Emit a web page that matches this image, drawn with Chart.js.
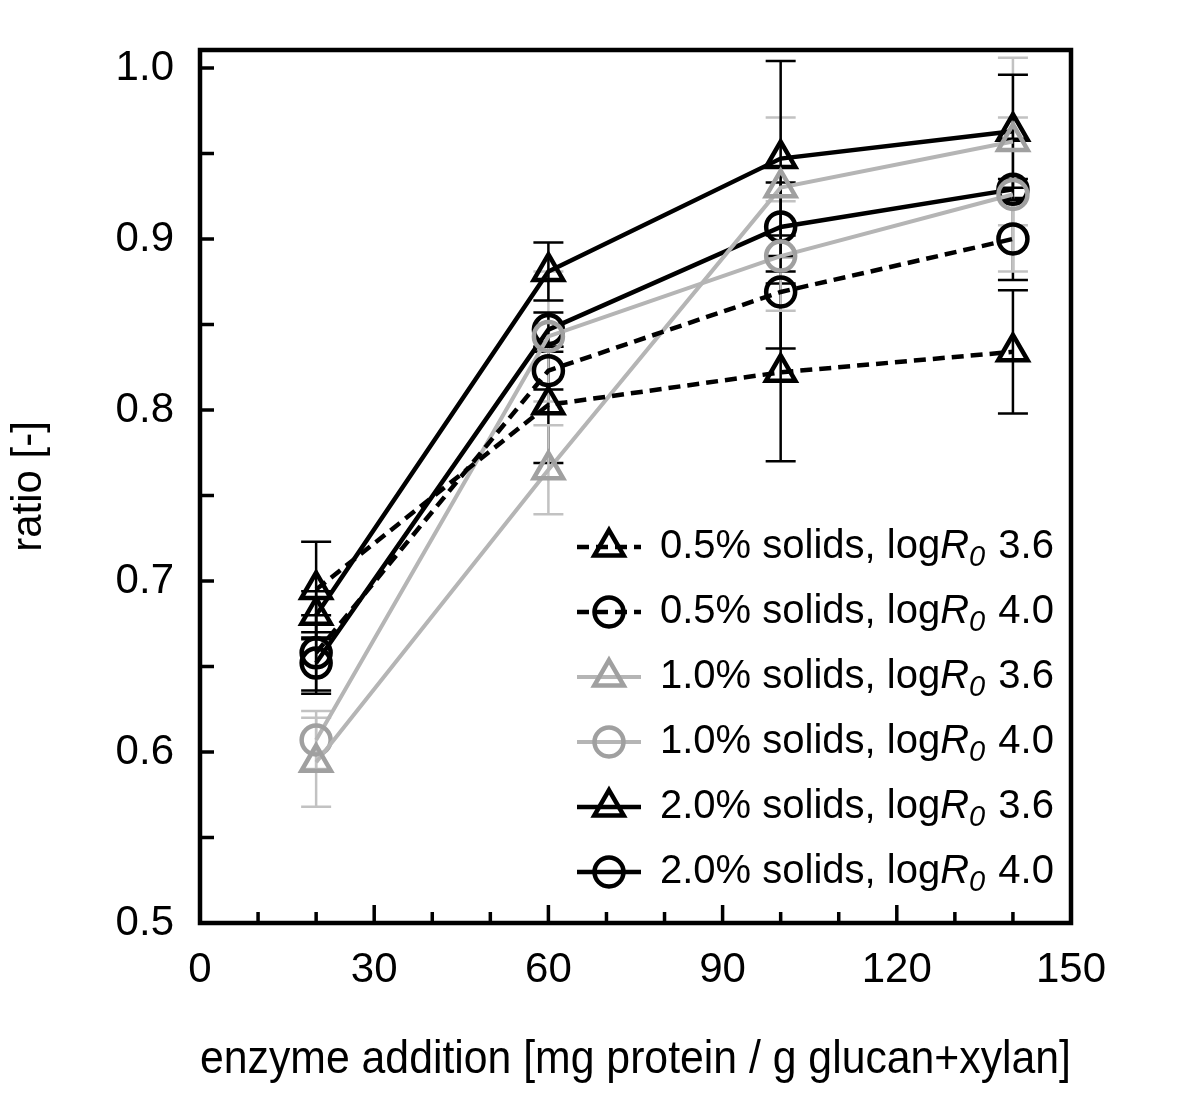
<!DOCTYPE html>
<html>
<head>
<meta charset="utf-8">
<script src="https://cdn.jsdelivr.net/npm/chart.js@4.4.1/dist/chart.umd.min.js"></script>
<style>
  html, body { margin: 0; padding: 0; background: #fff; }
</style>
</head>
<body>
<canvas id="ctx" width="1200" height="1094"></canvas>
<script>
const FONT = '"Liberation Sans", Arial, sans-serif';

// enzyme addition [mg protein / g glucan+xylan]
const enzyme = [20, 60, 100, 140];

const solids = ['0.5%', '0.5%', '1.0%', '1.0%', '2.0%', '2.0%'];
const logR0 = ['3.6', '4.0', '3.6', '4.0', '3.6', '4.0'];

// ratio values and error bars
const s05_r36 = [0.695, 0.803, 0.822, 0.834];
const s05_r36_err = [0.028, 0.034, 0.052, 0.036];
const s05_r40 = [0.658, 0.823, 0.869, 0.900];
const s05_r40_err = [0.022, 0.011, 0.033, 0.024];
const s10_r36 = [0.594, 0.765, 0.930, 0.957];
const s10_r36_err = [0.026, 0.026, 0.041, 0.049];
const s10_r40 = [0.607, 0.843, 0.890, 0.926];
const s10_r40_err = [0.017, 0.038, 0.032, 0.045];
const s20_r36 = [0.680, 0.881, 0.947, 0.963];
const s20_r36_err = [0.014, 0.017, 0.057, 0.033];
const s20_r40 = [0.652, 0.847, 0.907, 0.929];
const s20_r40_err = [0.018, 0.010, 0.026, 0.006];

const values = [s05_r36, s05_r40, s10_r36, s10_r40, s20_r36, s20_r40];
const errors = [s05_r36_err, s05_r40_err, s10_r36_err, s10_r40_err, s20_r36_err, s20_r40_err];

const xTicks = [0, 30, 60, 90, 120, 150];
const yTicks = [0.5, 0.6, 0.7, 0.8, 0.9, 1.0];

// styles
const BLACK = '#000';
const GRAY_LINE = '#b5b5b5';
const GRAY_MARK = '#a0a0a0';
const GRAY_ERR = '#c2c2c2';
const looks = [
  {line: BLACK, mark: BLACK, err: BLACK, dash: [12, 7], shape: 'triangle'},
  {line: BLACK, mark: BLACK, err: BLACK, dash: [12, 7], shape: 'circle'},
  {line: GRAY_LINE, mark: GRAY_MARK, err: GRAY_ERR, dash: [], shape: 'triangle'},
  {line: GRAY_LINE, mark: GRAY_MARK, err: GRAY_ERR, dash: [], shape: 'circle'},
  {line: BLACK, mark: BLACK, err: BLACK, dash: [], shape: 'triangle'},
  {line: BLACK, mark: BLACK, err: BLACK, dash: [], shape: 'circle'}
];

const datasets = values.map((vals, i) => ({
  label: solids[i] + ' solids, logR0 ' + logR0[i],
  data: vals.map((v, j) => ({x: enzyme[j], y: v})),
  borderColor: looks[i].line,
  borderWidth: looks[i].line === BLACK ? 4.5 : 4,
  borderDash: looks[i].dash,
  pointStyle: looks[i].shape,
  pointRadius: looks[i].shape === 'triangle' ? 17 : 14.5,
  pointBorderWidth: 4.5,
  pointBorderColor: looks[i].mark,
  pointBackgroundColor: 'rgba(0,0,0,0)',
  tension: 0,
  fill: false
}));

const errorBars = {
  id: 'errorBars',
  beforeDatasetsDraw(chart) {
    const {ctx, scales: {x, y}} = chart;
    ctx.save();
    ctx.lineWidth = 2.5;
    values.forEach((vals, i) => {
      ctx.strokeStyle = looks[i].err;
      vals.forEach((v, j) => {
        const px = x.getPixelForValue(enzyme[j]);
        const top = y.getPixelForValue(v + errors[i][j]);
        const bot = y.getPixelForValue(v - errors[i][j]);
        ctx.beginPath();
        ctx.moveTo(px, top); ctx.lineTo(px, bot);
        ctx.moveTo(px - 15, top); ctx.lineTo(px + 15, top);
        ctx.moveTo(px - 15, bot); ctx.lineTo(px + 15, bot);
        ctx.stroke();
      });
    });
    ctx.restore();
  }
};

function marker(ctx, shape, cx, cy) {
  ctx.beginPath();
  if (shape === 'circle') {
    ctx.arc(cx, cy, 14.5, 0, Math.PI * 2);
  } else {
    const r = 17;
    for (let k = 0; k < 3; k++) {
      const a = k * 2 * Math.PI / 3;
      const px = cx + Math.sin(a) * r, py = cy - Math.cos(a) * r;
      if (k === 0) ctx.moveTo(px, py); else ctx.lineTo(px, py);
    }
    ctx.closePath();
  }
  ctx.stroke();
}

const frameAndLegend = {
  id: 'frameAndLegend',
  afterDraw(chart) {
    const {ctx, chartArea: a, scales: {x, y}} = chart;
    ctx.save();
    ctx.strokeStyle = '#000';
    ctx.lineWidth = 3.5;
    ctx.beginPath();
    for (let v = 0; v <= 150; v += 10) {
      const px = x.getPixelForValue(v);
      const len = v % 30 === 0 ? 18 : 11;
      ctx.moveTo(px, a.bottom); ctx.lineTo(px, a.bottom - len);
    }
    for (let k = 0; k <= 10; k++) {
      const py = y.getPixelForValue(0.5 + k * 0.05);
      ctx.moveTo(a.left, py); ctx.lineTo(a.left + 14, py);
    }
    ctx.stroke();
    ctx.lineWidth = 4.5;
    ctx.strokeRect(a.left, a.top, a.right - a.left, a.bottom - a.top);

    // legend
    const fs = 40;
    ctx.textBaseline = 'middle';
    ctx.fillStyle = '#000';
    values.forEach((vals, i) => {
      const ly = 547 + i * 65;
      const lk = looks[i];
      ctx.strokeStyle = lk.line;
      ctx.lineWidth = lk.line === BLACK ? 4.5 : 4;
      ctx.setLineDash(lk.dash);
      ctx.beginPath();
      ctx.moveTo(577, ly); ctx.lineTo(641, ly);
      ctx.stroke();
      ctx.setLineDash([]);
      ctx.strokeStyle = lk.mark;
      ctx.lineWidth = 4.5;
      marker(ctx, lk.shape, 609, ly);

      let tx = 660;
      const parts = [
        [solids[i] + ' solids, log', 'normal ' + fs + 'px ' + FONT, 0],
        ['R', 'italic ' + fs + 'px ' + FONT, 0],
        ['0', 'italic ' + Math.round(fs * 0.72) + 'px ' + FONT, 11],
        [' ' + logR0[i], 'normal ' + fs + 'px ' + FONT, 0]
      ];
      parts.forEach(([t, f, dy]) => {
        ctx.font = f;
        ctx.fillText(t, tx, ly + dy);
        tx += ctx.measureText(t).width + (t === '0' ? 2 : 0);
      });
    });
    ctx.restore();
  }
};

new Chart(document.getElementById('ctx'), {
  type: 'line',
  data: {datasets},
  plugins: [errorBars, frameAndLegend],
  options: {
    responsive: false,
    animation: false,
    layout: {padding: {top: 50, right: 129, left: 0, bottom: 0}},
    plugins: {legend: {display: false}, tooltip: {enabled: false}},
    scales: {
      x: {
        type: 'linear',
        min: 0, max: 150,
        afterFit: s => { s.height = 171; },
        afterBuildTicks: s => { s.ticks = xTicks.map(v => ({value: v})); },
        grid: {display: false},
        border: {display: false},
        ticks: {font: {family: FONT, size: 42}, color: '#000', padding: 14, maxRotation: 0},
        title: {display: true, text: 'enzyme addition [mg protein / g glucan+xylan]',
                font: {family: FONT, size: 47}, color: '#000', padding: {bottom: 6}}
      },
      y: {
        min: 0.5, max: 1.0105,
        afterFit: s => { s.width = 200; },
        afterBuildTicks: s => { s.ticks = yTicks.map(v => ({value: v})); },
        grid: {display: false},
        border: {display: false},
        ticks: {font: {family: FONT, size: 42}, color: '#000', padding: 18,
                callback: v => v.toFixed(1)},
        title: {display: true, text: 'ratio [-]',
                font: {family: FONT, size: 42}, color: '#000', padding: {top: 4}}
      }
    }
  }
});
</script>
</body>
</html>
